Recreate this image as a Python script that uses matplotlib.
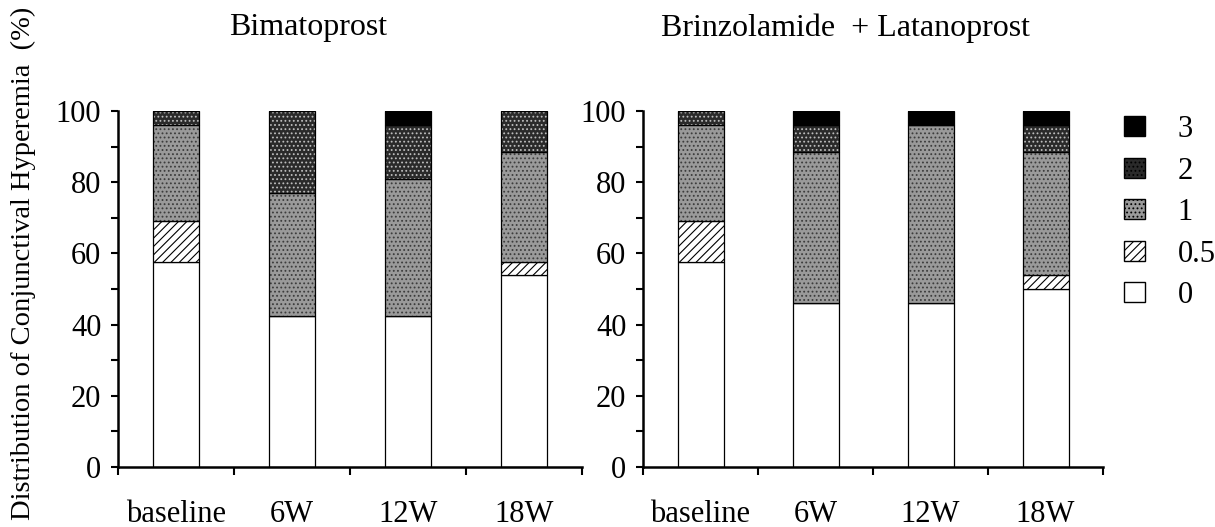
import matplotlib.pyplot as plt
import matplotlib.patches as mpatches
import numpy as np

plt.rcParams['font.family'] = ['Liberation Serif', 'DejaVu Serif']
plt.rcParams['hatch.linewidth'] = 0.8

groups = ['baseline', '6W', '12W', '18W']
levels = ['0', '0.5', '1', '2', '3']

# percent per grade, stacked from bottom (grade 0) to top (grade 3)
bima = {
    '0':   [57.7, 42.3, 42.3, 53.8],
    '0.5': [11.5, 0.0, 0.0, 3.8],
    '1':   [27.0, 34.6, 38.5, 30.8],
    '2':   [3.8, 23.1, 15.4, 11.6],
    '3':   [0.0, 0.0, 3.8, 0.0],
}
brinz = {
    '0':   [57.7, 46.2, 46.2, 50.0],
    '0.5': [11.5, 0.0, 0.0, 3.8],
    '1':   [27.0, 42.3, 50.0, 34.6],
    '2':   [3.8, 7.7, 0.0, 7.8],
    '3':   [0.0, 3.8, 3.8, 3.8],
}

styles = {
    '0':   dict(face='white', hatch=None, hc='black'),
    '0.5': dict(face='white', hatch='////', hc='black'),
    '1':   dict(face='#9a9a9a', hatch='....', hc='#3c3c3c'),
    '2':   dict(face='#2a2a2a', hatch='....', hc='#bdbdbd'),
    '3':   dict(face='black', hatch=None, hc='black'),
}

fig = plt.figure(figsize=(12.15, 5.27), dpi=100)
ax1 = fig.add_axes([118 / 1215, 1 - 467 / 527, 464 / 1215, 356 / 527])
ax2 = fig.add_axes([643 / 1215, 1 - 467 / 527, 460 / 1215, 356 / 527])

x = np.arange(len(groups))
w = 0.4


def draw(ax, data, title, title_x):
    bottom = np.zeros(len(groups))
    for lv in levels:
        vals = np.array(data[lv])
        st = styles[lv]
        ax.bar(x, vals, w, bottom=bottom, color=st['face'], hatch=st['hatch'],
               edgecolor=st['hc'], linewidth=0)
        ax.bar(x, vals, w, bottom=bottom, fill=False, edgecolor='black', linewidth=0.9)
        bottom += vals
    ax.set_xlim(-0.5, 3.5)
    ax.set_ylim(0, 100)
    ax.spines['top'].set_visible(False)
    ax.spines['right'].set_visible(False)
    ax.spines['left'].set_linewidth(1.8)
    ax.spines['bottom'].set_linewidth(1.8)
    ax.set_yticks(np.arange(0, 101, 20))
    ax.set_yticks(np.arange(10, 100, 20), minor=True)
    ax.set_xticks(x, groups)
    ax.set_xticks(np.arange(-0.5, 3.6, 1), minor=True)
    ax.tick_params(axis='y', which='both', direction='out', length=5, width=1.5,
                   labelsize=22, pad=7)
    ax.tick_params(axis='x', which='major', length=0, labelsize=22, pad=24)
    ax.tick_params(axis='x', which='minor', direction='out', length=6, width=1.5)
    fig.text(title_x, 1 - 28 / 527, title, ha='center', va='center', fontsize=23)


draw(ax1, bima, 'Bimatoprost', 308 / 1215)
draw(ax2, brinz, 'Brinzolamide  + Latanoprost', 845 / 1215)

fig.text(23 / 1215, 0.5, 'Distribution of Conjunctival Hyperemia  (%)', rotation=90,
         ha='center', va='center', fontsize=20.5)

handles = []
for lv in reversed(levels):
    st = styles[lv]
    handles.append(mpatches.Patch(facecolor=st['face'], hatch=st['hatch'],
                                  edgecolor=st['hc'], linewidth=0))
leg = fig.legend(handles, list(reversed(levels)), loc='upper left',
                 bbox_to_anchor=(1124 / 1215, 1 - 115 / 527), frameon=False,
                 fontsize=22, handlelength=0.7, handleheight=0.62,
                 handletextpad=1.05, labelspacing=0.41,
                 borderpad=0, borderaxespad=0)
for p in leg.get_patches():
    p.set_edgecolor('black')
    p.set_linewidth(1.0)

fig.savefig('out.png', dpi=100, facecolor='white')
